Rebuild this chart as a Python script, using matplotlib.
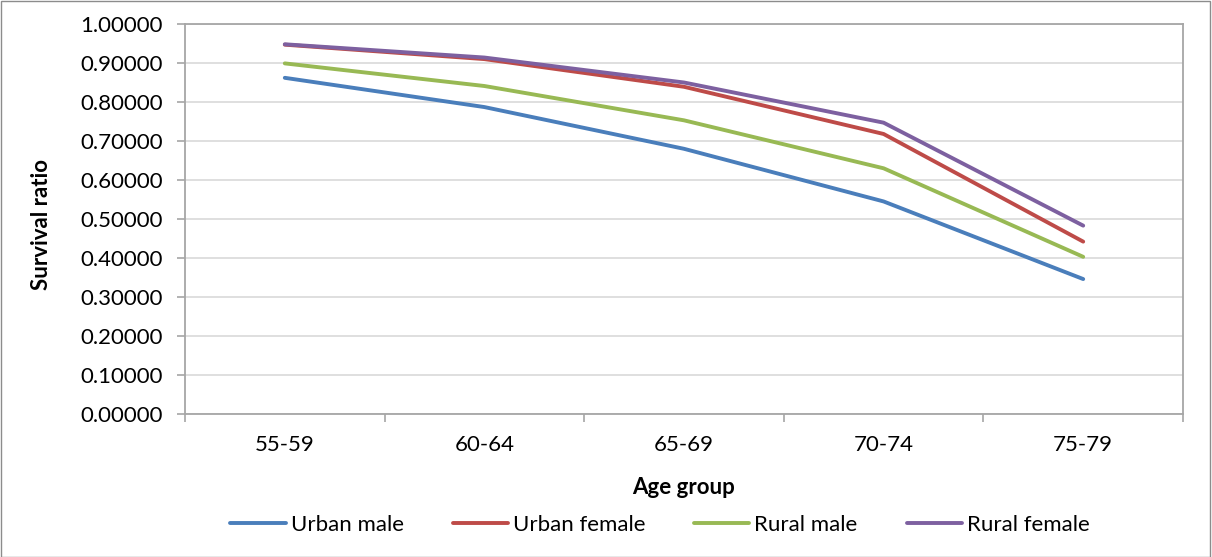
import matplotlib
matplotlib.use("Agg")
import matplotlib.pyplot as plt
from matplotlib.patches import Rectangle
from matplotlib.ticker import FixedLocator, NullFormatter, FuncFormatter

# Age groups and survival ratios per population group
age_groups = ["55-59", "60-64", "65-69", "70-74", "75-79"]
urban_male = [0.862, 0.787, 0.680, 0.545, 0.346]
urban_female = [0.947, 0.910, 0.839, 0.718, 0.442]
rural_male = [0.899, 0.841, 0.753, 0.630, 0.403]
rural_female = [0.948, 0.914, 0.850, 0.747, 0.483]
series_names = ["Urban male", "Urban female", "Rural male", "Rural female"]

colors = ["#4A7EBB", "#BE4B48", "#98B954", "#7D60A0"]
plt.rcParams["font.family"] = ["Lato", "DejaVu Sans"]
FS = 16

W, H, DPI = 1212, 557, 100
fig = plt.figure(figsize=(W / DPI, H / DPI), dpi=DPI)

# outer chart border
fig.patches.append(Rectangle((0.5 / W, 0.5 / H), 1 - 2.5 / W, 1 - 1.5 / H,
                             transform=fig.transFigure, fill=False,
                             edgecolor="#8C8C8C", linewidth=1.0))

left, right, top, bottom = 185, 1183, 24, 414
ax = fig.add_axes([left / W, (H - bottom) / H, (right - left) / W, (bottom - top) / H])

x = list(range(len(age_groups)))
for vals, name, c in zip([urban_male, urban_female, rural_male, rural_female], series_names, colors):
    ax.plot(x, vals, color=c, linewidth=2.8, label=name, solid_capstyle="round", zorder=3)

ax.set_xlim(-0.5, len(age_groups) - 0.5)
ax.set_ylim(0, 1.0)
ax.set_yticks([i / 10 for i in range(11)])
ax.yaxis.set_major_formatter(FuncFormatter(lambda v, p: f"{v:.5f}"))
ax.grid(axis="y", color="#D9D9D9", linewidth=1.2, zorder=0)

# category boundaries carry tick marks, labels sit at category centres
ax.xaxis.set_major_locator(FixedLocator([i - 0.5 for i in range(len(age_groups) + 1)]))
ax.xaxis.set_major_formatter(NullFormatter())
ax.xaxis.set_minor_locator(FixedLocator(x))
ax.set_xticklabels(age_groups, minor=True)
ax.tick_params(axis="x", which="major", length=6, width=1.2, color="#A6A6A6")
ax.tick_params(axis="x", which="minor", length=0, pad=15, labelsize=FS)
ax.tick_params(axis="y", length=6, width=1.2, color="#A6A6A6", pad=10, labelsize=FS)

for s in ax.spines.values():
    s.set_color("#A6A6A6")
    s.set_linewidth(1.3)

fig.text(684 / W, 1 - 487 / H, "Age group", ha="center", va="center",
         fontsize=FS, fontweight="bold")
fig.text(42 / W, 1 - 224 / H, "Survival ratio", ha="center", va="center",
         rotation=90, fontsize=FS, fontweight="bold")

fig.legend(loc="center", bbox_to_anchor=(660 / W, 1 - 525 / H), ncol=4, frameon=False,
           fontsize=FS, handlelength=2.48, handletextpad=0.23, columnspacing=2.2)

fig.savefig("out.png", dpi=DPI)
